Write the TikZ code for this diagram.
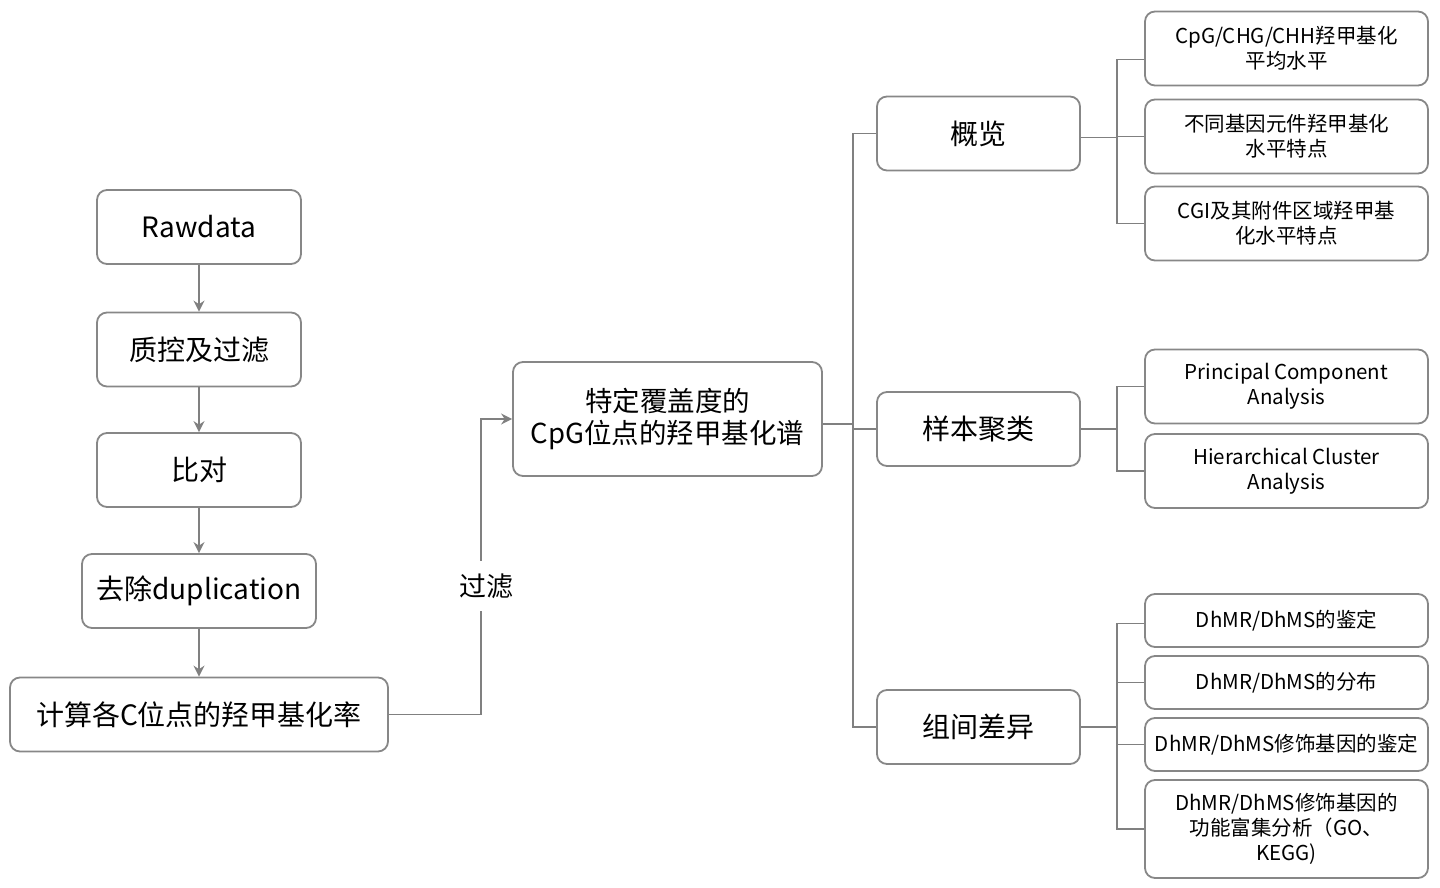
\documentclass[tikz,border=0pt]{standalone}
\usepackage{fontspec}
\setmainfont{Noto Sans CJK SC}
\usetikzlibrary{arrows.meta, positioning, calc}
\definecolor{boxline} {RGB}{135, 135, 135}
\definecolor{wireline}{RGB}{128, 128, 128}
\tikzset{
	baseblock/.style={
		rectangle, rounded corners=10pt,
		align=center, draw=boxline, line width=1.8pt,
		fill=white, inner sep=2pt
	},
	stepbox/.style={
		baseblock, minimum width=204pt, minimum height=74pt,
		font=\fontsize{28}{32}\selectfont
	},
	topicbox/.style={
		baseblock, minimum width=203pt, minimum height=74pt,
		font=\fontsize{28}{32}\selectfont
	},
	leafbox/.style={
		baseblock, minimum width=283pt, minimum height=74pt,
		font=\fontsize{20.5}{25}\selectfont
	},
	arrow/.style={
		-{Stealth[length=11pt, width=11pt]}, line width=1.8pt, color=wireline
	},
	link/.style={
		line width=1.8pt, color=wireline
	}
}
\begin{document}
\begin{tikzpicture}[x=1pt, y=-1pt]
		\useasboundingbox (0,0) rectangle (1440,888);
		
		%% ═══════════════════════════════
		%%  LEFT COLUMN — pipeline
		%% ═══════════════════════════════
		\node[stepbox] (raw)   at (199,227)   {Rawdata};
		\node[stepbox] (qc)    at (199,349.5) {质控及过滤};
		\node[stepbox] (align) at (199,470)   {比对};
		\node[stepbox, minimum width=234pt] (dedup) at (199,591) {去除duplication};
		\node[stepbox, minimum width=378pt] (rate)  at (199,714.5) {计算各C位点的羟甲基化率};
		
		%% ═══════════════════════════════
		%%  MIDDLE — profile
		%% ═══════════════════════════════
		\node[stepbox, minimum width=309pt, minimum height=114pt,
		font=\fontsize{27.5}{32}\selectfont] (prof) at (667.5,419)
		{特定覆盖度的\\CpG位点的羟甲基化谱};
		
		%% ═══════════════════════════════
		%%  TOPICS
		%% ═══════════════════════════════
		\node[topicbox] (over)  at (978.5,133.5) {概览};
		\node[topicbox] (clust) at (978.5,429)   {样本聚类};
		\node[topicbox] (diff)  at (978.5,727)   {组间差异};
		
		%% ═══════════════════════════════
		%%  LEAVES
		%% ═══════════════════════════════
		\node[leafbox] (ov1) at (1286.5,48.5)  {CpG/CHG/CHH羟甲基化\\平均水平};
		\node[leafbox] (ov2) at (1286.5,136.5) {不同基因元件羟甲基化\\水平特点};
		\node[leafbox] (ov3) at (1286.5,223.5) {CGI及其附件区域羟甲基\\化水平特点};
		
		\node[leafbox] (cl1) at (1286.5,386.5) {Principal Component\\Analysis};
		\node[leafbox] (cl2) at (1286.5,471)   {Hierarchical Cluster\\Analysis};
		
		\node[leafbox, minimum height=53pt] (df1) at (1286.5,620.5) {DhMR/DhMS的鉴定};
		\node[leafbox, minimum height=53pt] (df2) at (1286.5,682.5) {DhMR/DhMS的分布};
		\node[leafbox, minimum height=53pt] (df3) at (1286.5,744.5) {DhMR/DhMS修饰基因的鉴定};
		\node[leafbox, minimum height=98pt] (df4) at (1286.5,829)
		{DhMR/DhMS修饰基因的\\功能富集分析（GO、\\KEGG)};
		
		%% ═══════════════════════════════
		%%  ARROWS
		%% ═══════════════════════════════
		
		% pipeline steps
		\draw[arrow] (raw)   -- (qc);
		\draw[arrow] (qc)    -- (align);
		\draw[arrow] (align) -- (dedup);
		\draw[arrow] (dedup) -- (rate);
		
		% rate -> profile, through the filter
		\coordinate (turn) at (481,0);
		\draw[arrow] (rate.east) -| (turn |- prof.west) -- (prof.west);
		\node[fill=white, inner xsep=2pt, inner ysep=13pt,
		font=\fontsize{27}{30}\selectfont] (filt) at (486,586) {过滤};
		
		% profile -> topics
		\coordinate (hub) at (853,0);
		\draw[link] ([yshift=-5pt]prof.east) -- ([yshift=-5pt]prof.east -| hub);
		\draw[link] (over.west) -| (hub |- diff.west) -- (diff.west);
		\draw[link] (clust.west) -- (clust.west -| hub);
		
		% topics -> leaves
		\coordinate (hubR) at (1117,0);
		\draw[link] ([yshift=-4pt]over.east) -- ([yshift=-4pt]over.east -| hubR);
		\draw[link] ([yshift=-11pt]ov1.west) -| (hubR |- ov3.west) -- (ov3.west);
		\draw[link] (ov2.west) -- (ov2.west -| hubR);
		
		\draw[link] (clust.east) -- (clust.east -| hubR);
		\draw[link] (cl1.west) -| (hubR |- cl2.west) -- (cl2.west);
		
		\draw[link] (diff.east) -- (diff.east -| hubR);
		\draw[link] ([yshift=-3pt]df1.west) -| (hubR |- df4.west) -- (df4.west);
		\draw[link] (df2.west) -- (df2.west -| hubR);
		\draw[link] (df3.west) -- (df3.west -| hubR);
	\end{tikzpicture}
\end{document}
